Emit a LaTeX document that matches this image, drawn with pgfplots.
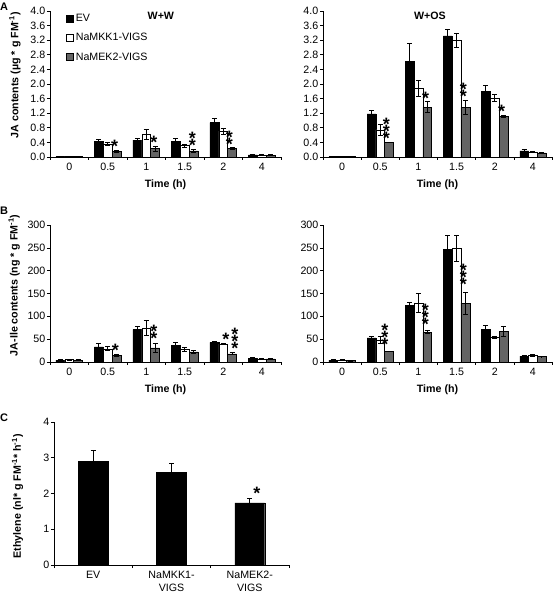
\documentclass[border=0pt]{standalone}
\usepackage{fontspec}
\setmainfont{Liberation Sans}
\usepackage{pgfplots}
\usepackage{pgfplotstable}
\pgfplotsset{compat=1.18}
\definecolor{meg}{RGB}{100,100,100}

% x  ev  eev  mkk  emkk  mek  emek
\pgfplotstableread{
x ev eev mkk emkk mek emek
0 0.01 0.005 0.01 0.005 0.01 0.005
1 0.42 0.06 0.36 0.04 0.15 0.03
2 0.46 0.05 0.61 0.13 0.23 0.07
3 0.42 0.09 0.31 0.04 0.17 0.04
4 0.94 0.11 0.71 0.08 0.23 0.02
5 0.06 0.01 0.05 0.01 0.05 0.01
}\JAww
\pgfplotstableread{
x ev eev mkk emkk mek emek
0 0.01 0.005 0.01 0.005 0.01 0.005
1 1.18 0.10 0.74 0.15 0.40 0.01
2 2.62 0.50 1.88 0.22 1.36 0.15
3 3.32 0.18 3.19 0.20 1.36 0.20
4 1.79 0.16 1.61 0.10 1.12 0.03
5 0.17 0.03 0.14 0.01 0.11 0.02
}\JAwos
\pgfplotstableread{
x ev eev mkk emkk mek emek
0 4 1 5 1 4 1
1 33 8 29 4 14 2
2 71 7 74 16 31 10
3 36 6 28 4 22 3
4 43 1 39 1 18 2
5 8 1 7 1 7 1
}\Ileww
\pgfplotstableread{
x ev eev mkk emkk mek emek
0 4 1 4 1 3 1
1 53 3 48 7 23 1
2 124 7 129 20 65 3
3 246 30 248 28 129 24
4 71 10 54 2 67 11
5 13 1 15 2 12 1
}\Ilewos
\pgfplotstableread{
x y e
0 2.89 0.32
1 2.60 0.23
2 1.74 0.13
}\Eth

\newcommand{\fs}{\fontsize{10.7}{12.8}\selectfont}
\pgfplotsset{
  base/.style={
    scale only axis,
    axis x line*=bottom, axis y line*=left,
    axis line style={line width=0.6bp, black},
    tick align=outside,
    major tick length=3bp,
    tick style={line width=0.6bp, black},
    ymin=0,
    x tick label as interval,
    tick label style={font=\fs},
    yticklabel style={inner sep=1.5bp},
    label style={font=\bfseries\fs},
    /pgf/number format/assume math mode=true,
    ybar=0pt,
  },
  time/.style={base,
    xmin=-0.5, xmax=5.5, xtick={-0.5,0.5,1.5,2.5,3.5,4.5,5.5},
    xticklabels={0,0.5,1,1.5,2,4},
    bar width=0.23, xlabel={Time (h)},
    x label style={at={(axis description cs:0.5,0)}, anchor=north, yshift=-19bp},
  },
  jaaxis/.style={time, ymax=4,
    ytick={0,0.4,0.8,1.2,1.6,2,2.4,2.8,3.2,3.6,4},
    yticklabel style={/pgf/number format/.cd, fixed, fixed zerofill, precision=1},
  },
  ileaxis/.style={time, ymax=300, ytick={0,50,100,150,200,250,300}},
  ebar/.style={error bars/.cd, y dir=both, y explicit,
    error bar style={line width=1bp, black},
    error mark options={rotate=90, mark size=2.5bp, line width=1bp, black}},
  legsq/.style={legend image code/.code={\draw[##1, line width=0.5bp, draw=black] (0bp,-3.5bp) rectangle (7bp,3.5bp);}},
  pev/.style={draw=black, line width=0.5bp, fill=black, legsq},
  pmkk/.style={draw=black, line width=0.5bp, fill=white, legsq},
  pmek/.style={draw=black, line width=0.5bp, fill=meg, legsq},
}
\tikzset{star/.style={font={\bfseries\fontsize{18}{7}\selectfont\lineskiplimit=-50bp\lineskip=0bp},
  align=center, anchor=south, inner sep=0pt, yshift=-2.5bp}}
\newcommand{\stars}[3]{\node[star] at (axis cs:#1,#2) {#3};}

\begin{document}
\begin{tikzpicture}
\useasboundingbox (0,0) rectangle (555bp,593bp);

\node[font=\bfseries\fontsize{11}{13}\selectfont] at (4bp,586bp) {A};
\node[font=\bfseries\fontsize{11}{13}\selectfont] at (4bp,382bp) {B};
\node[font=\bfseries\fontsize{11}{13}\selectfont] at (4bp,175bp) {C};

% ---------- A left
\begin{axis}[jaaxis, at={(50bp,436bp)}, anchor=south west, width=231bp, height=146bp,
  ylabel={JA contents (\textmu g * g FM\textsuperscript{-1})},
  ylabel style={at={(axis description cs:-0.152,0.56)}, anchor=center},
  legend cell align=left,
  legend style={at={(axis description cs:0.07,0.995)}, anchor=north west, draw=none, fill=none,
    font=\fs, inner sep=0pt, row sep=6.5bp},
]
\addplot[pev, ebar] table[x=x, y=ev, y error=eev] {\JAww};
\addplot[pmkk, ebar] table[x=x, y=mkk, y error=emkk] {\JAww};
\addplot[pmek, ebar] table[x=x, y=mek, y error=emek] {\JAww};
\legend{EV, NaMKK1-VIGS, NaMEK2-VIGS}
\node[font=\bfseries\fs] at (axis description cs:0.48,0.966) {W+W};
\stars{1.18}{0.18}{*}
\stars{2.2}{0.30}{*}
\stars{3.2}{0.21}{*\\*}
\stars{4.16}{0.25}{*\\*}
\end{axis}

% ---------- A right
\begin{axis}[jaaxis, at={(323bp,436bp)}, anchor=south west, width=229bp, height=146bp]
\addplot[pev, ebar] table[x=x, y=ev, y error=eev] {\JAwos};
\addplot[pmkk, ebar] table[x=x, y=mkk, y error=emkk] {\JAwos};
\addplot[pmek, ebar] table[x=x, y=mek, y error=emek] {\JAwos};
\node[font=\bfseries\fs] at (axis description cs:0.467,0.966) {W+OS};
\stars{1.16}{0.41}{*\\*\\*}
\stars{2.19}{1.51}{*}
\stars{3.18}{1.56}{*\\*}
\stars{4.18}{1.15}{*}
\end{axis}

% ---------- B left
\begin{axis}[ileaxis, at={(50bp,231bp)}, anchor=south west, width=231bp, height=137bp,
  ylabel={JA-Ile contents (ng * g FM\textsuperscript{-1})},
  ylabel style={at={(axis description cs:-0.155,0.56)}, anchor=center},
]
\addplot[pev, ebar] table[x=x, y=ev, y error=eev] {\Ileww};
\addplot[pmkk, ebar] table[x=x, y=mkk, y error=emkk] {\Ileww};
\addplot[pmek, ebar] table[x=x, y=mek, y error=emek] {\Ileww};
\stars{1.2}{16}{*}
\stars{2.2}{44}{*\\*}
\stars{4.07}{41}{*}
\stars{4.3}{22}{*\\*\\*}
\end{axis}

% ---------- B right
\begin{axis}[ileaxis, at={(323bp,231bp)}, anchor=south west, width=229bp, height=137bp]
\addplot[pev, ebar] table[x=x, y=ev, y error=eev] {\Ilewos};
\addplot[pmkk, ebar] table[x=x, y=mkk, y error=emkk] {\Ilewos};
\addplot[pmek, ebar] table[x=x, y=mek, y error=emek] {\Ilewos};
\stars{1.12}{30}{*\\*\\*}
\stars{2.18}{74}{*\\*\\*}
\stars{3.18}{162}{*\\*\\*}
\end{axis}

% ---------- C
\begin{axis}[base, at={(54bp,28bp)}, anchor=south west, width=235bp, height=143bp,
  xmin=-0.5, xmax=2.5, xtick={-0.5,0.5,1.5,2.5},
  xticklabels={EV, NaMKK1-\\VIGS, NaMEK2-\\VIGS},
  xticklabel style={align=center, font=\fs},
  ymax=4, ytick={0,1,2,3,4}, bar width=0.38,
  ylabel={Ethylene (nl* g FM\textsuperscript{-1}* h\textsuperscript{-1})},
  ylabel style={at={(axis description cs:-0.155,0.48)}, anchor=center},
]
\addplot[draw=black, fill=black, error bars/.cd, y dir=plus, y explicit,
    error bar style={line width=1bp, black},
    error mark options={rotate=90, mark size=2.5bp, line width=1bp, black}]
  table[x=x, y=y, y error=e] {\Eth};
\stars{2.09}{1.90}{*}
\end{axis}
\end{tikzpicture}
\end{document}
